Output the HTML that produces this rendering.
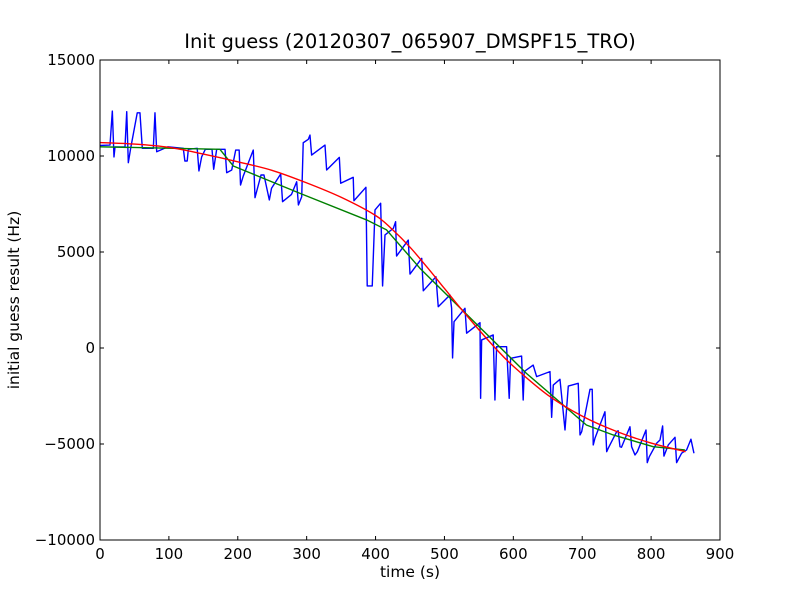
<!DOCTYPE html>
<html><head><meta charset="utf-8"><style>
body{margin:0;background:#fff;}
svg{display:block;font-family:"DejaVu Sans","Liberation Sans",sans-serif;}
</style></head><body>
<svg id="chart" width="800" height="600">
<rect x="0" y="0" width="800" height="600" fill="#fff"/>
<text x="410" y="48" font-size="19.5" text-anchor="middle">Init guess (20120307_065907_DMSPF15_TRO)</text>
<text x="410" y="577" font-size="15.5" text-anchor="middle">time (s)</text>
<text x="19" y="300" font-size="15.5" text-anchor="middle" transform="rotate(-90 19 300)">initial guess result (Hz)</text>
<g id="plot"></g>
</svg>
<script>
const xTicks=[0,100,200,300,400,500,600,700,800,900];
const yTicks=[-10000,-5000,0,5000,10000,15000];
const blueT=[0,14.5,17.9,20.3,21.8,36.3,38.8,41.1,44.6,54.1,58,61.4,77.4,79.8,82.3,98.7,120.9,123.2,126.6,128.2,141.1,143.6,147.6,152.9,162.6,165,169.4,181.5,183.9,191.2,197,202,204,208,222.5,225,233.7,238,245.8,249,262.3,265,278,285.5,288,292.8,295,302.4,304.8,307.2,326.6,329,347.4,349.4,367.6,368.6,386,387.9,395.2,399.2,407.4,410.2,413.7,425.8,429.1,430.5,447.5,450,467,469.3,487.7,491,508,510.4,511.8,513.9,529.8,532.2,551.6,552.5,554,570.8,573.3,575.7,590.2,594,596,612,614.3,615.8,628.8,633.8,653.2,655.6,658,667.7,675,679.8,694.2,696.8,699.2,711.3,714.5,716,718.5,733,735.5,737.8,750,752.2,754.8,757,769.3,771.7,776.6,780,792.6,794.4,797.4,808,812.9,816.7,818.6,824.9,834.7,837,844.3,851.5,857.8,862.2];
const blueV=[10550,10570,12340,9950,10470,10480,12310,9650,10420,12250,12250,10400,10400,12250,10220,10480,10400,9740,9740,10350,10400,9220,9960,10350,10350,9310,10350,10350,9130,9270,10310,10310,8490,8960,10310,7830,9010,9010,7710,8320,9060,7620,8000,8660,7450,7880,10690,10870,11090,10050,10570,9270,9930,8580,8890,7670,8370,3230,3230,7190,7540,3230,5890,6230,6580,4790,5620,3850,4670,2980,3710,2150,2760,2080,-520,1370,2070,770,1320,-2620,420,680,-2710,70,70,-2620,-540,-420,-2710,-1230,-890,-1490,-1230,-3610,-1930,-1630,-4270,-1980,-1840,-4530,-4360,-2150,-2150,-5050,-4700,-3320,-5400,-5220,-4360,-4310,-5140,-5170,-4100,-5140,-5570,-5400,-4270,-5970,-5660,-4960,-4790,-4060,-5630,-5050,-4650,-5970,-5480,-5310,-4750,-5480];
const greenT=[0,174,193.5,290,387,416,464.5,619,706,745,803,849];
const greenV=[10480,10350,9480,8060,6670,6150,4150,-1320,-4010,-4530,-5140,-5310];
const redT=[0,50,100,150,200,250,300,350,400,425,450,475,500,525,550,575,600,650,700,750,800,850];
const redV=[10700,10620,10450,10100,9700,9250,8600,7850,6900,6150,5250,4200,3100,2000,950,-50,-950,-2450,-3550,-4350,-4950,-5400];

const L=100,R=720,T=60,B=540;
const xs=t=>L+(t-0)*(R-L)/900;
const ys=v=>B-(v+10000)*(B-T)/25000;
const NS='http://www.w3.org/2000/svg';
const g=document.getElementById('plot');
function mk(tag,attrs){const e=document.createElementNS(NS,tag);for(const k in attrs)e.setAttribute(k,attrs[k]);g.appendChild(e);return e;}
function line(T_,V_,color,name,smooth){
  const P=T_.map((t,i)=>[xs(t),ys(V_[i])]);
  let d='M'+P[0][0]+','+P[0][1];
  if(smooth){
    for(let i=0;i<P.length-1;i++){
      const p0=P[Math.max(0,i-1)],p1=P[i],p2=P[i+1],p3=P[Math.min(P.length-1,i+2)];
      const c1=[p1[0]+(p2[0]-p0[0])/6,p1[1]+(p2[1]-p0[1])/6];
      const c2=[p2[0]-(p3[0]-p1[0])/6,p2[1]-(p3[1]-p1[1])/6];
      d+=' C'+c1+' '+c2+' '+p2;
    }
  } else {
    for(let i=1;i<P.length;i++) d+=' L'+P[i][0]+','+P[i][1];
  }
  const p=mk('path',{d:d,fill:'none',stroke:color,'stroke-width':1.4,'stroke-linejoin':'round'});
  
  
}
line(blueT,blueV,'#0000ff','series-blue-line',false);
line(greenT,greenV,'#008000','series-green-line',false);
line(redT,redV,'#ff0000','series-red-line',true);
const frame=mk('rect',{x:L,y:T,width:R-L,height:B-T,fill:'none',stroke:'#000','stroke-width':1});


xTicks.forEach(t=>{
  const x=xs(t);
  mk('line',{x1:x,y1:B,x2:x,y2:B-4,stroke:'#000'});
  mk('line',{x1:x,y1:T,x2:x,y2:T+4,stroke:'#000'});
  const tx=mk('text',{x:x,y:B+19,'font-size':15,'text-anchor':'middle'});
  tx.textContent=t;
  
  
});
yTicks.forEach(v=>{
  const y=ys(v);
  mk('line',{x1:L,y1:y,x2:L+4,y2:y,stroke:'#000'});
  mk('line',{x1:R,y1:y,x2:R-4,y2:y,stroke:'#000'});
  const tx=mk('text',{x:L-5,y:y+5,'font-size':15,'text-anchor':'end'});
  tx.textContent=v<0?'\u2212'+Math.abs(v):v;
  
  
});
</script>
</body></html>
